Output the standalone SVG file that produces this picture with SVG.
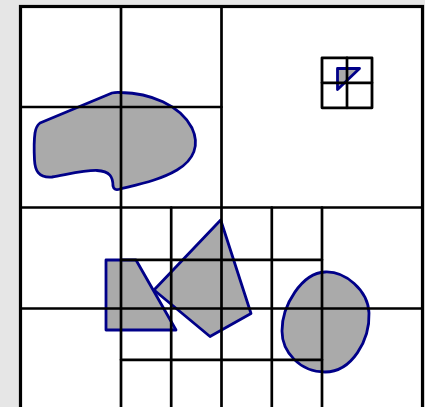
<svg xmlns="http://www.w3.org/2000/svg" width="425" height="407" viewBox="0 0 425 407">
<style>
.shape{fill:#aaaaaa;stroke:#000088;stroke-width:2.8;stroke-linejoin:round}
.grid line{stroke:#000;stroke-width:2.7;stroke-linecap:round}
.outer{fill:none;stroke:#000;stroke-width:3.2}
.sq{fill:none;stroke:#000;stroke-width:2.8;stroke-linejoin:round}
</style>
<rect x="0" y="0" width="425" height="407" fill="#e6e6e6"/>
<rect x="20.5" y="6.5" width="402" height="410" fill="#fff"/>
<g id="shapes">
<g id="blob"><path class="shape" d="M40,123 L112,93 Q116,92 121,92.5 C150,93 180,105 192,128 C200,145 194,160 177,170 C160,180 140,184 120,189 Q114,191 113,186 C113,177 110,171 97,170.5 C85,170 65,175 52,177 C38,178 35,170 34.5,160 C34,150 34,140 35,133 Q36,126 40,123 Z"/></g>
<g id="triangle"><polygon class="shape" points="337.5,68.5 359.5,68.5 337.5,89.5"/></g>
<g id="trapezoid"><polygon class="shape" points="106,260 136,260 176,330 106,330"/></g>
<g id="kite"><polygon class="shape" points="220.7,220 251,313.5 210,336.5 154,290"/></g>
<g id="egg"><path class="shape" d="M325,272 C345,271 368,290 369,313 C370,340 352,372 325,372 C300,372 282,352 282,331 C282,305 302,273 325,272 Z"/></g>
</g>
<g class="grid" id="grid">
<line x1="221.5" y1="6.5" x2="221.5" y2="412"/>
<line x1="20.5" y1="207.5" x2="422.5" y2="207.5"/>
<line x1="121" y1="6.5" x2="121" y2="412"/>
<line x1="20.5" y1="107" x2="221.5" y2="107"/>
<line x1="20.5" y1="308.5" x2="422.5" y2="308.5"/>
<line x1="322" y1="207.5" x2="322" y2="412"/>
<line x1="171.2" y1="207.5" x2="171.2" y2="412"/>
<line x1="271.8" y1="207.5" x2="271.8" y2="412"/>
<line x1="121" y1="259.8" x2="322" y2="259.8"/>
<line x1="121" y1="359.8" x2="322" y2="359.8"/>
<line x1="347" y1="57.8" x2="347" y2="107.8"/>
<line x1="322" y1="82.8" x2="372" y2="82.8"/>
</g>
<rect class="sq" x="322" y="57.8" width="50" height="50"/>
<rect class="outer" x="20.5" y="6.5" width="402" height="410"/>
</svg>
